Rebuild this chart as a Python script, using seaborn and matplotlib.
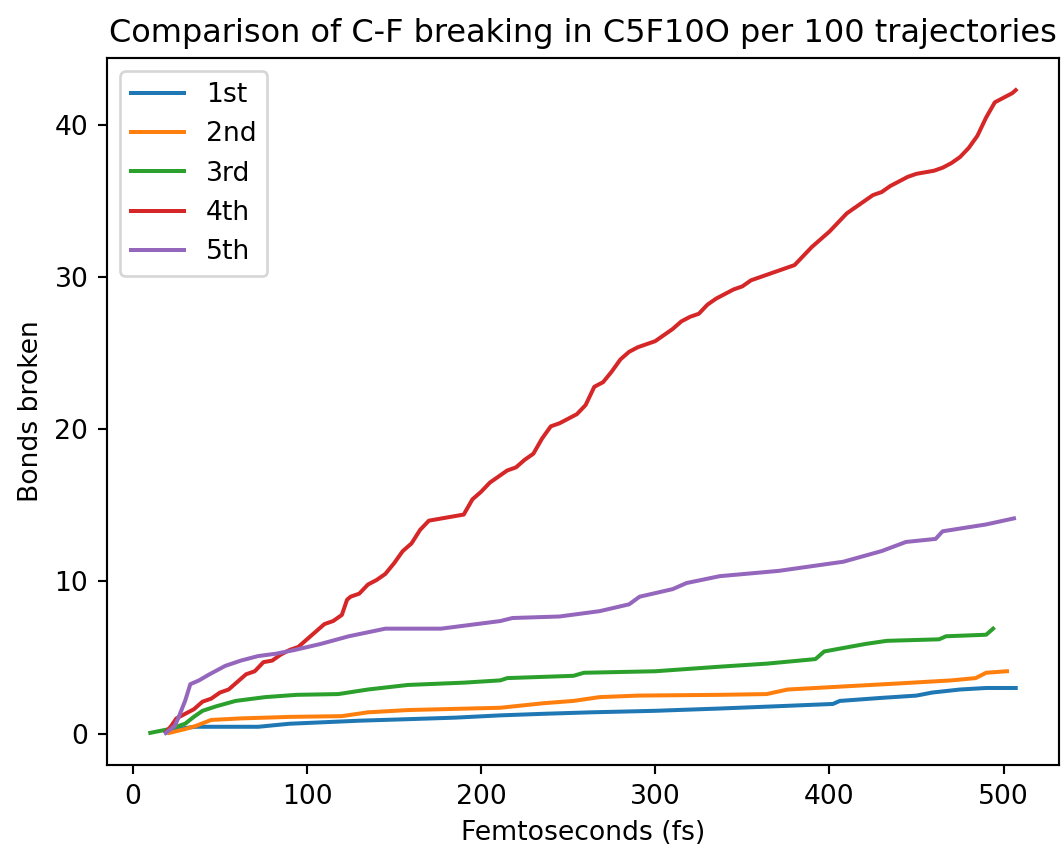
import numpy as np
import pandas as pd
import matplotlib
matplotlib.use("Agg")
import matplotlib.pyplot as plt
import seaborn as sns

# Cumulative C-F bonds broken (per 100 trajectories) versus time, by C-F bond position
t_1st = [19, 25, 36, 50, 72, 90, 110, 130, 158, 185, 211, 235, 263, 300, 337,
         370, 402, 406, 430, 450, 459, 475, 490, 507]
v_1st = [0.05, 0.3, 0.45, 0.45, 0.45, 0.65, 0.75, 0.85, 0.95, 1.05, 1.2, 1.3, 1.4, 1.5, 1.65,
         1.8, 1.95, 2.15, 2.35, 2.5, 2.7, 2.9, 3.0, 3.0]

t_2nd = [21, 30, 36, 45, 62, 90, 120, 135, 158, 211, 236, 253, 268, 290, 337,
         364, 376, 400, 440, 470, 484, 490, 502]
v_2nd = [0.05, 0.3, 0.5, 0.9, 1.0, 1.1, 1.15, 1.4, 1.55, 1.7, 2.0, 2.15, 2.4, 2.5, 2.55,
         2.6, 2.9, 3.05, 3.3, 3.5, 3.65, 4.0, 4.1]

t_3rd = [10, 21, 30, 35, 40, 48, 59, 76, 94, 118, 135, 158, 190, 211, 215, 253,
         259, 300, 337, 364, 392, 397, 421, 433, 463, 467, 490, 494]
v_3rd = [0.05, 0.3, 0.65, 1.1, 1.5, 1.8, 2.15, 2.4, 2.55, 2.6, 2.9, 3.2, 3.35, 3.5, 3.65, 3.8,
         4.0, 4.1, 4.4, 4.6, 4.9, 5.4, 5.9, 6.1, 6.2, 6.4, 6.5, 6.9]

t_4th = [19, 22, 25, 30, 35, 40, 45, 50, 55, 60, 65, 70, 75, 80, 85, 90, 95, 100,
         105, 110, 115, 120, 123, 125, 130, 135, 140, 145, 150, 155, 160, 165, 170,
         175, 180, 185, 190, 195, 200, 205, 210, 215, 220, 225, 230, 235, 240, 245,
         250, 255, 260, 265, 270, 275, 280, 285, 290, 295, 300, 305, 310, 315, 320,
         325, 330, 335, 340, 345, 350, 355, 360, 365, 370, 375, 380, 385, 390, 395,
         400, 405, 410, 415, 420, 425, 430, 435, 440, 445, 450, 455, 460, 465, 470,
         475, 480, 485, 490, 495, 500, 505, 507]
v_4th = [0.1, 0.5, 1.0, 1.3, 1.6, 2.1, 2.3, 2.7, 2.9, 3.4, 3.9, 4.1, 4.7, 4.8, 5.2, 5.5, 5.7, 6.2,
         6.7, 7.2, 7.4, 7.8, 8.8, 9.0, 9.2, 9.8, 10.1, 10.5, 11.2, 12.0, 12.5, 13.4, 14.0,
         14.1, 14.2, 14.3, 14.4, 15.4, 15.9, 16.5, 16.9, 17.3, 17.5, 18.0, 18.4, 19.4, 20.2, 20.4,
         20.7, 21.0, 21.6, 22.8, 23.1, 23.8, 24.6, 25.1, 25.4, 25.6, 25.8, 26.2, 26.6, 27.1, 27.4,
         27.6, 28.2, 28.6, 28.9, 29.2, 29.4, 29.8, 30.0, 30.2, 30.4, 30.6, 30.8, 31.4, 32.0, 32.5,
         33.0, 33.6, 34.2, 34.6, 35.0, 35.4, 35.6, 36.0, 36.3, 36.6, 36.8, 36.9, 37.0, 37.2, 37.5,
         37.9, 38.5, 39.3, 40.5, 41.5, 41.8, 42.1, 42.3]

t_5th = [19, 24, 26, 30, 33, 38, 44, 53, 62, 72, 82, 93, 108, 124, 145, 158, 177,
         211, 218, 245, 268, 285, 291, 310, 318, 337, 371, 408, 430, 444, 461, 465,
         490, 506]
v_5th = [0.05, 0.5, 1.0, 2.15, 3.25, 3.5, 3.9, 4.45, 4.8, 5.1, 5.25, 5.5, 5.9, 6.4, 6.9, 6.9, 6.9,
         7.4, 7.6, 7.7, 8.05, 8.5, 9.0, 9.5, 9.9, 10.35, 10.7, 11.3, 12.0, 12.6, 12.8, 13.3,
         13.75, 14.15]

labels = ["1st", "2nd", "3rd", "4th", "5th"]
times = [t_1st, t_2nd, t_3rd, t_4th, t_5th]
values = [v_1st, v_2nd, v_3rd, v_4th, v_5th]

df = pd.concat(
    [pd.DataFrame({"fs": t, "bonds": v, "bond": lab}) for lab, t, v in zip(labels, times, values)],
    ignore_index=True,
)

DPI = 192
fig = plt.figure(figsize=(1064 / DPI, 845 / DPI), dpi=DPI)
ax = fig.add_axes([107 / 1064, 1 - 765 / 845, (1059 - 107) / 1064, (765 - 58) / 845])

sns.lineplot(data=df, x="fs", y="bonds", hue="bond", hue_order=labels,
             palette=sns.color_palette("tab10", 5), estimator=None, sort=False,
             linewidth=1.5, ax=ax)

ax.set_title("Comparison of C-F breaking in C5F10O per 100 trajectories")
ax.set_xlabel("Femtoseconds (fs)")
ax.set_ylabel("Bonds broken")
ax.set_xticks([0, 100, 200, 300, 400, 500])
ax.set_yticks([0, 10, 20, 30, 40])
ax.legend(loc="upper left")

fig.savefig("out.png", dpi=DPI)
